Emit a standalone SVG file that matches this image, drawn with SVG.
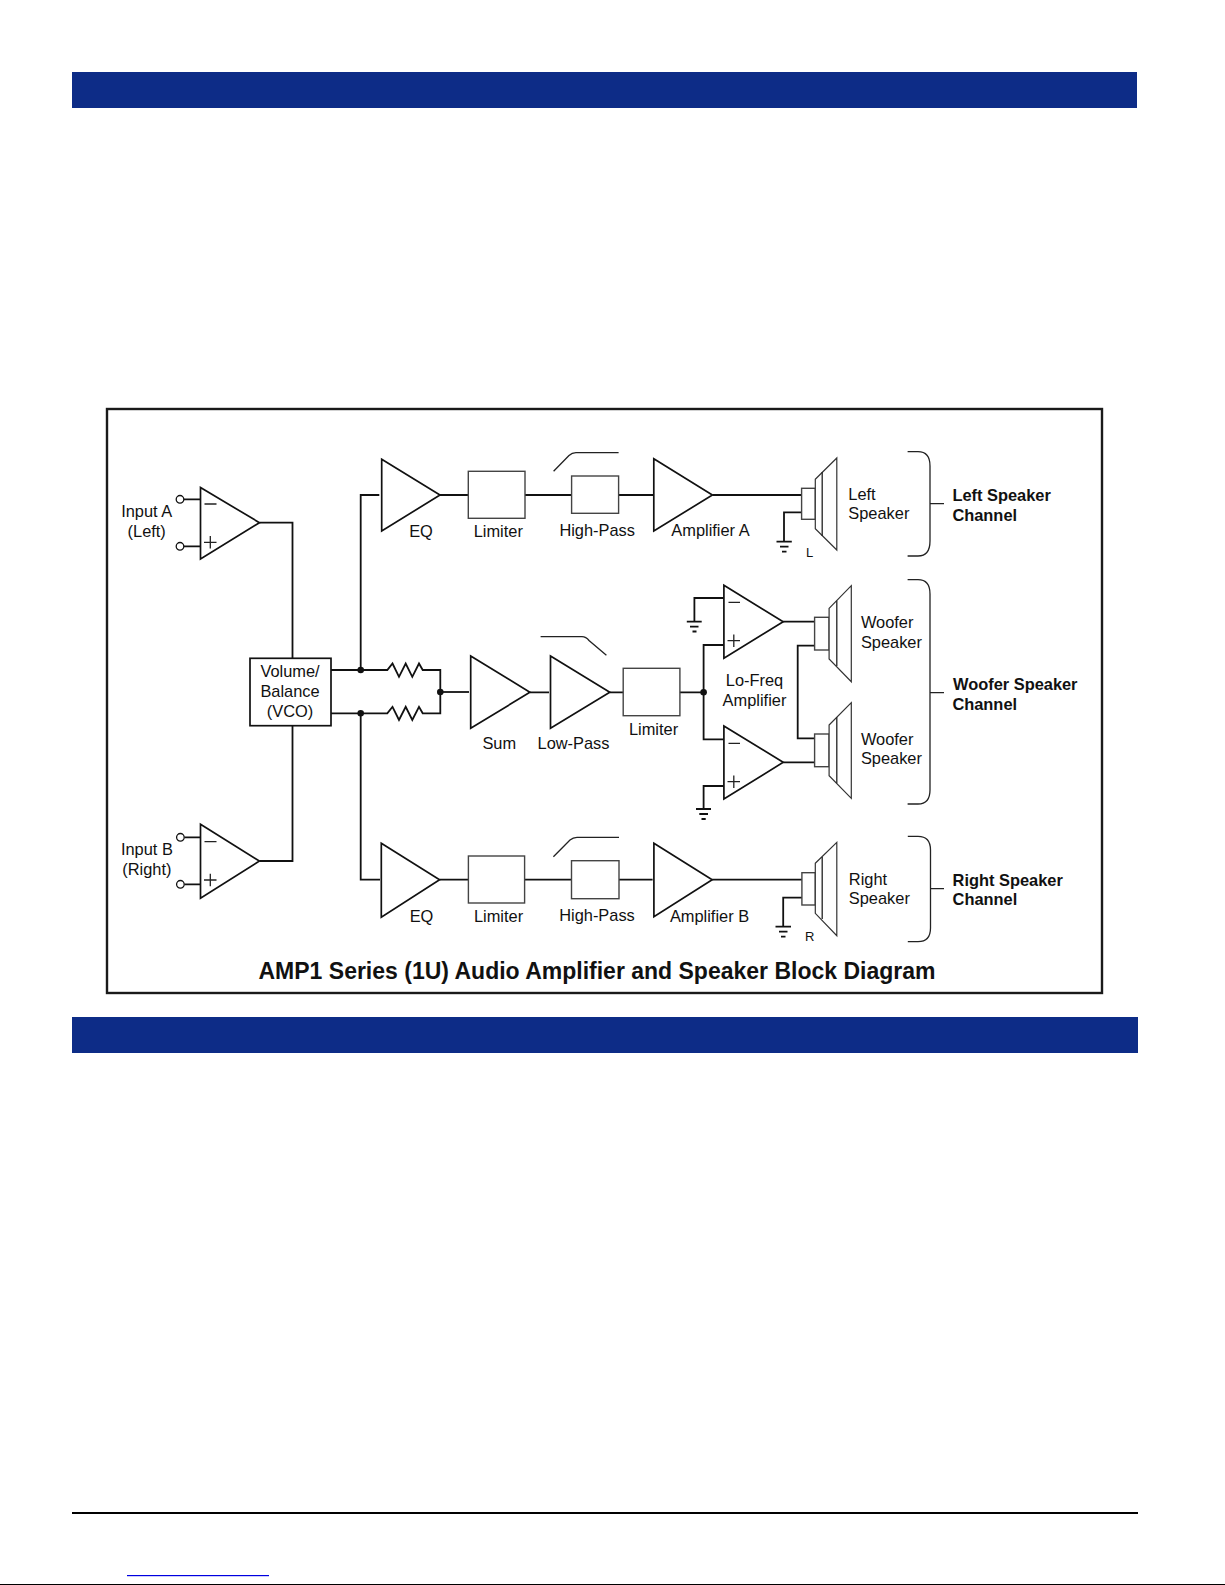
<svg xmlns="http://www.w3.org/2000/svg" width="1225" height="1585" viewBox="0 0 1225 1585">
<style>
text{font-family:"Liberation Sans",Arial,sans-serif;font-size:16.4px;fill:#111}
.b{font-weight:bold}
.m{text-anchor:middle}
.s{fill:#fff;stroke:#111;stroke-width:1.7;stroke-linejoin:miter}
.c{fill:#fff;stroke:#333;stroke-width:1.2;stroke-linejoin:miter}
.g{fill:none;stroke:#444;stroke-width:1.4}
.w{stroke:#111;stroke-width:1.8;fill:none}
.t{stroke:#222;stroke-width:1.3;fill:none}
.d{fill:#111}
.bar{fill:#0d2c87}
</style>
<rect width="1225" height="1585" fill="#fff"/>
<g id="page">
<rect class="bar" x="72" y="72" width="1065" height="36"/>
<rect class="bar" x="72" y="1017" width="1066" height="36"/>
<rect x="72" y="1512" width="1066" height="2" fill="#000"/>
<rect x="127" y="1575" width="142" height="1.2" fill="#0000e0"/>
<rect x="0" y="1584" width="1225" height="1" fill="#000"/>
</g>
<rect id="frame" x="107" y="409" width="995" height="584" fill="#fff" stroke="#1a1a1a" stroke-width="2.4"/>
<g id="connectors">
<path class="w" d="M184 499.3H200.5M184 546.3H200.5M184.400 837.300H200.500M184.400 884.300H200.500"/>
<path class="w" d="M259.500 522.700H292.500V658M259.500 861H292.500V725.700"/>
<path class="w" d="M331 670H387.300L392.500 663.500 399 676.800 405.700 663.500 412.300 676.800 419 663.500 422.700 670H440.300V713.300H422.700L419 706.800 412.300 720 405.700 706.800 399 720 392.500 706.800 387.300 713.300H331"/>
<path class="w" d="M440.300 692H469"/>
<path class="w" d="M360.700 670V495H379.300M360.700 713.300V879.700H380"/>
<path class="w" d="M440 495H468.300M525 495H571.600M618.600 495H653.800"/>
<path class="w" d="M712.400 495H801.600"/>
<path class="w" d="M801.600 512.300H784V541.700"/>
<path class="w" d="M530 692.300H549M609.800 692.300H623.200M679.900 692.300H703.600"/>
<path class="w" d="M723.900 645H703.600V739.300H723.900"/>
<path class="w" d="M723.900 598H694.400V621.700M723.900 786H703.600V809"/>
<path class="w" d="M783.200 621.700H814.600M783.200 762.300H814.600"/>
<path class="w" d="M814.600 645.700H797.700V738.300H814.600"/>
<path class="w" d="M439.600 879.700H468.400M524.600 879.700H571.500M619 879.700H652.600"/>
<path class="w" d="M712.200 879.700H801.900"/>
<path class="w" d="M801.900 897.700H783.200V926"/>
<path class="t" d="M553.600 471.300L569 455.500Q572 452.700 576 452.700H618.600"/>
<path class="t" d="M540.600 636.700H582Q586 636.800 589 640.500L606.400 655.300"/>
<path class="t" d="M553.400 856.700L570 840Q573 837.300 577 837.300H619"/>
<circle class="d" cx="360.700" cy="670" r="3.3"/>
<circle class="d" cx="360.700" cy="713.300" r="3.3"/>
<circle class="d" cx="440.300" cy="692" r="3.3"/>
<circle class="d" cx="703.600" cy="692.300" r="3.3"/>
</g>
<g id="input-a">
<circle cx="180" cy="499.3" r="3.8" fill="#fff" stroke="#111" stroke-width="1.3"/>
<circle cx="180" cy="546.3" r="3.8" fill="#fff" stroke="#111" stroke-width="1.3"/>
<path class="s" d="M200.500 487.500L259.500 522.700 200.500 559Z"/>
<path class="t" d="M204.500 504H216.500M204 542.300H216.500M210.300 536V548.600"/>
<text class="m" x="146.700" y="517.300">Input A</text>
<text class="m" x="146.700" y="537.300">(Left)</text>
</g>
<g id="input-b">
<circle cx="180.400" cy="837.300" r="3.800" fill="#fff" stroke="#111" stroke-width="1.3"/>
<circle cx="180.400" cy="884.300" r="3.800" fill="#fff" stroke="#111" stroke-width="1.3"/>
<path class="s" d="M200.500 824.300L259.400 861 200.500 898.300Z"/>
<path class="t" d="M204.500 841.700H216.500M204 880H216.500M210.300 873.700V886.300"/>
<text class="m" x="146.900" y="855">Input B</text>
<text class="m" x="146.900" y="875">(Right)</text>
</g>
<g id="vco">
<rect class="s" x="250" y="658.300" width="81" height="67.400"/>
<text class="m" x="290" y="676.700">Volume/</text>
<text class="m" x="290" y="696.700">Balance</text>
<text class="m" x="290" y="716.700">(VCO)</text>
</g>
<g id="eq-a">
<path class="s" d="M381.700 459.300L440 495 381.700 531Z"/>
<text class="m" x="421" y="537.300">EQ</text>
</g>
<g id="limiter-a">
<rect class="g" x="468.300" y="471.300" width="56.700" height="47"/>
<text class="m" x="498.300" y="537.300">Limiter</text>
</g>
<g id="highpass-a">
<rect class="g" x="571.600" y="476" width="47" height="37.300"/>
<text class="m" x="597.200" y="536">High-Pass</text>
</g>
<g id="amp-a">
<path class="s" d="M653.800 458.700L712.400 495 653.800 531Z"/>
<text class="m" x="710.500" y="536">Amplifier A</text>
</g>
<g id="speaker-left">
<rect class="g" x="801.600" y="488.300" width="13.700" height="31"/>
<path class="c" d="M815.300 479.300L836.800 458V550L815.300 528.700Z"/>
<path class="t" d="M822.200 472V536"/>
<path class="w" d="M776.500 541.700H791.800M780 546.700H788.500M782 551.700H786.500"/>
<text x="806" y="556.500" style="font-size:13px">L</text>
<text x="848.300" y="500">Left</text>
<text x="848.300" y="519.300">Speaker</text>
</g>
<g id="channel-left">
<path class="t" d="M907.600 451.700H918Q930 451.700 930 466V541Q930 556 918 556H907.600M930 503.700H944"/>
<text class="b" x="952.400" y="501">Left Speaker</text>
<text class="b" x="952.400" y="520.700">Channel</text>
</g>
<g id="sum">
<path class="s" d="M470.700 656L529.900 692.300 470.700 728.300Z"/>
<text class="m" x="499.300" y="749">Sum</text>
</g>
<g id="lowpass">
<path class="s" d="M550.500 656L609.800 692.300 550.500 728.300Z"/>
<text class="m" x="573.500" y="749">Low-Pass</text>
</g>
<g id="limiter-c">
<rect class="g" x="623.200" y="668.300" width="56.700" height="47.400"/>
<text class="m" x="653.500" y="735">Limiter</text>
</g>
<g id="lofreq-top">
<path class="s" d="M723.900 585.300L783.200 621.700 723.900 658.300Z"/>
<path class="t" d="M728.500 602.300H740M727.500 640.700H740M733.800 634.400V647"/>
<path class="w" d="M686.800 621.700H701.700M690 626.700H698.500M692.500 631.500H696.500"/>
</g>
<g id="lofreq-bottom">
<path class="s" d="M723.900 726L783.200 762.300 723.900 799Z"/>
<path class="t" d="M728.500 743.300H740M727.500 781.700H740M733.800 775.400V788"/>
<path class="w" d="M696 809H711M699.300 814H708M701.500 819H705.700"/>
</g>
<text id="lofreq-label" class="m" x="754.500" y="686.300">Lo-Freq<tspan x="754.500" dy="19.400">Amplifier</tspan></text>
<g id="woofer-top">
<rect class="g" x="814.600" y="617.300" width="14.500" height="32.700"/>
<path class="c" d="M829.100 608.300L851.300 585.700V681.700L829.100 659Z"/>
<path class="t" d="M836.800 600.700V666"/>
<text x="860.900" y="628.300">Woofer</text>
<text x="860.900" y="647.700">Speaker</text>
</g>
<g id="woofer-bottom">
<rect class="g" x="814.600" y="734" width="14.500" height="32.700"/>
<path class="c" d="M829.100 725L851.300 702.700V798.300L829.100 775.700Z"/>
<path class="t" d="M836.800 717.300V783.300"/>
<text x="860.900" y="745">Woofer</text>
<text x="860.900" y="764.300">Speaker</text>
</g>
<g id="channel-woofer">
<path class="t" d="M907.600 579.700H918Q930 579.700 930 594V790Q930 804 918 804H907.600M930 692.700H944"/>
<text class="b" x="953" y="690">Woofer Speaker</text>
<text class="b" x="952.400" y="710">Channel</text>
</g>
<g id="eq-b">
<path class="s" d="M381.300 843.300L439.600 879.700 381.300 917.300Z"/>
<text class="m" x="421.500" y="922">EQ</text>
</g>
<g id="limiter-b">
<rect class="g" x="468.400" y="856" width="56.200" height="47"/>
<text class="m" x="498.500" y="922.300">Limiter</text>
</g>
<g id="highpass-b">
<rect class="g" x="571.500" y="860.700" width="47.500" height="38"/>
<text class="m" x="597" y="920.700">High-Pass</text>
</g>
<g id="amp-b">
<path class="s" d="M653.900 843.300L712.200 879.700 653.900 916.700Z"/>
<text class="m" x="709.500" y="922.300">Amplifier B</text>
</g>
<g id="speaker-right">
<rect class="g" x="801.900" y="872.700" width="13.400" height="32.300"/>
<path class="c" d="M815.300 863.300L836.800 842.300V935.700L815.300 913.300Z"/>
<path class="t" d="M822.200 857V919"/>
<path class="w" d="M775.500 926.700H791M779 931.700H787.500M781 936.700H785.500"/>
<text x="805" y="941" style="font-size:13px">R</text>
<text x="848.800" y="885">Right</text>
<text x="848.800" y="904.300">Speaker</text>
</g>
<g id="channel-right">
<path class="t" d="M907.800 836.300H918Q930.500 836.300 930.500 850V928Q930.500 941.700 918 941.700H907.800M930.500 888.700H944"/>
<text class="b" x="952.600" y="885.700">Right Speaker</text>
<text class="b" x="952.600" y="905.300">Channel</text>
</g>
<text id="title" class="b m" x="597" y="979" style="font-size:23px">AMP1 Series (1U) Audio Amplifier and Speaker Block Diagram</text>
</svg>
